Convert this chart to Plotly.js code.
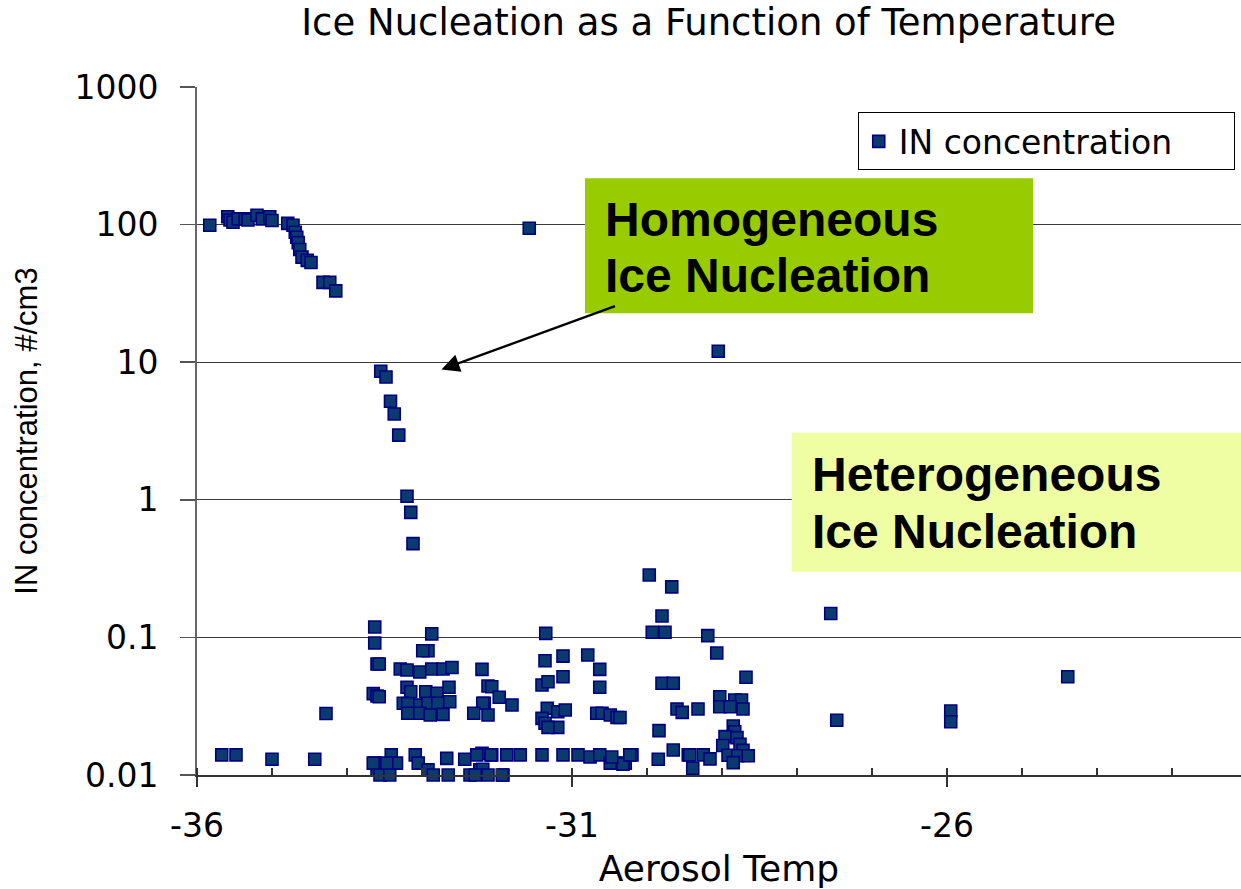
<!DOCTYPE html>
<html>
<head>
<meta charset="utf-8">
<script src="https://cdn.plot.ly/plotly-3.0.1.min.js"></script>
<style>
  html, body { margin: 0; padding: 0; background: #ffffff; }
  #chart { width: 1241px; height: 889px; }
</style>
</head>
<body>
<div id="chart"></div>
<script>
// Aerosol temperature (deg C) for each measurement
const aerosolTemp = [
  // homogeneous plateau and roll-off
  -35.83, -35.59, -35.56, -35.52, -35.45, -35.36, -35.32, -35.20, -35.13, -35.03, -35.00,
  -34.79, -34.72, -34.69, -34.67, -34.65, -34.63, -34.60, -34.53, -34.48, -34.32, -34.23, -34.15,
  // steep drop
  -33.55, -33.48, -33.42, -33.37, -33.31, -33.20, -33.15, -33.12,
  // isolated high points
  -31.57, -29.05,
  // far right
  -27.55, -27.47, -25.95, -25.95, -24.39,
  // left low
  -34.28, -35.67, -35.48, -35.00, -34.43,
  // column near -33.6
  -33.63, -33.63, -33.60, -33.57, -33.65, -33.60, -33.57,
  // cluster -33.3 .. -32.6
  -32.87, -32.92, -32.99,
  -33.29, -33.20, -33.03, -32.87, -32.72, -32.60,
  -33.20, -33.15, -32.95, -32.80, -32.64,
  -33.25, -33.19, -33.03, -32.92, -32.79, -32.63,
  -33.19, -33.03, -32.89, -32.72,
  // cluster -32.3 .. -31.8
  -32.20, -32.12, -32.07, -31.97, -31.80, -32.17, -32.19, -32.31, -32.12,
  // cluster -31.4 .. -31.1
  -31.35, -31.36, -31.12, -31.40, -31.32, -31.12, -31.33, -31.19, -31.09, -31.40, -31.36, -31.19, -31.32,
  // cluster -30.8 .. -30.4
  -30.79, -30.63, -30.63, -30.67, -30.60, -30.49, -30.40, -30.36,
  // cluster -30 .. -28.6
  -29.97, -29.67, -29.80, -29.93, -29.76, -29.19, -29.07, -29.80, -29.65, -28.68,
  -29.60, -29.53, -29.32, -29.03, -29.03, -28.83, -28.74, -28.72, -28.89, -29.84,
  // dense cluster near -28.8
  -28.85, -28.83, -28.96, -28.80, -28.99, -28.76, -28.72, -28.92, -28.79, -28.65, -28.85,
  // bottom row
  -33.63, -33.60, -33.56, -33.43, -33.41, -33.34, -33.47, -33.65, -33.09, -33.05, -32.92, -32.85,
  -32.67, -32.65, -32.43, -32.36, -32.20, -32.23, -32.07, -31.92, -31.87, -31.69, -31.40, -31.12,
  -30.92, -30.76, -30.63, -30.43, -30.29, -30.32, -30.20, -30.23, -29.85, -29.65, -29.45, -29.39,
  -29.43, -29.25, -29.16, -32.27, -32.08, -32.19, -32.29, -32.12, -31.93, -30.49, -30.47
];

// IN concentration (#/cm3) for each measurement
const inConcentration = [
  99, 114, 108, 104, 110, 110, 108, 117, 110, 114, 107,
  102, 99, 88, 81, 74, 66, 58, 55, 53, 38, 38, 33,
  8.6, 7.8, 5.2, 4.2, 2.95, 1.06, 0.81, 0.48,
  94, 12,
  0.149, 0.025, 0.0292, 0.0244, 0.0518,
  0.028, 0.014, 0.014, 0.013, 0.013,
  0.119, 0.091, 0.064, 0.064, 0.039, 0.0375, 0.037,
  0.106, 0.080, 0.080,
  0.059, 0.058, 0.056, 0.059, 0.059, 0.0605,
  0.0434, 0.0403, 0.0403, 0.0393, 0.0434,
  0.0332, 0.0330, 0.0323, 0.0332, 0.0332, 0.0341,
  0.0281, 0.0281, 0.0273, 0.0276,
  0.0586, 0.0443, 0.0438, 0.0367, 0.0323, 0.0332, 0.0332, 0.0281, 0.0273,
  0.107, 0.0676, 0.0731, 0.0451, 0.0476, 0.0518, 0.0305, 0.0288, 0.0297, 0.0258, 0.0238, 0.0222, 0.0222,
  0.0744, 0.0586, 0.0434, 0.0281, 0.0281, 0.0273, 0.0262, 0.0262,
  0.284, 0.233, 0.143, 0.109, 0.109, 0.103, 0.077, 0.0464, 0.0464, 0.0513,
  0.0302, 0.0285, 0.0302, 0.037, 0.0313, 0.0351, 0.0351, 0.0302, 0.0313, 0.021,
  0.0227, 0.0206, 0.019, 0.0187, 0.0164, 0.0167, 0.0151, 0.0139, 0.0138, 0.0138, 0.0123,
  0.0122, 0.0109, 0.0100, 0.0100, 0.0140, 0.0122, 0.0122, 0.0122, 0.0140, 0.0122, 0.0109, 0.0100,
  0.0132, 0.0100, 0.0130, 0.0100, 0.0144, 0.0109, 0.0140, 0.0100, 0.0140, 0.0140, 0.0140, 0.0140,
  0.0140, 0.0135, 0.0140, 0.0122, 0.0122, 0.0120, 0.0140, 0.0140, 0.0130, 0.0152, 0.0140, 0.0112,
  0.0140, 0.0140, 0.0131, 0.0140, 0.0140, 0.0110, 0.0100, 0.0100, 0.0100, 0.0122, 0.0135
];

const xTickVals = [-36, -31, -26];
const xTickText = ['-36', '-31', '-26'];
const yTickVals = [0.01, 0.1, 1, 10, 100, 1000];
const yTickText = ['0.01', '0.1', '1', '10', '100', '1000'];

const chartTitle = 'Ice Nucleation as a Function of Temperature';
const xTitle = 'Aerosol Temp';
const yTitle = 'IN concentration, #/cm3';
const seriesName = 'IN concentration';
const homLines = ['Homogeneous', 'Ice Nucleation'];
const hetLines = ['Heterogeneous', 'Ice Nucleation'];

const mainFont = 'DejaVu Sans, Verdana, sans-serif';
const arialFont = 'Liberation Sans, Arial, sans-serif';

const trace = {
  type: 'scatter',
  mode: 'markers',
  name: seriesName,
  x: aerosolTemp,
  y: inConcentration,
  cliponaxis: false,
  marker: {
    symbol: 'square',
    size: 12,
    color: '#0B3B6E',
    line: { color: '#000080', width: 1.6 }
  }
};

const layout = {
  width: 1241,
  height: 889,
  margin: { l: 197, r: 0, t: 87, b: 114, pad: 0 },
  paper_bgcolor: '#ffffff',
  plot_bgcolor: '#ffffff',
  showlegend: true,
  title: {
    text: chartTitle,
    font: { family: mainFont, size: 37, color: '#000000' },
    xref: 'paper', x: 0.49, xanchor: 'center',
    yref: 'container', y: 0.975, yanchor: 'middle'
  },
  xaxis: {
    range: [-36, -22.08],
    tickmode: 'array', tickvals: xTickVals, ticktext: xTickText,
    ticks: 'outside', ticklen: 10, tickwidth: 1.5, tickcolor: '#333333',
    minor: { tickmode: 'linear', ticks: 'inside', ticklen: 7, dtick: 1, tick0: -36, tickcolor: '#333333', tickwidth: 1.2, showgrid: false },
    showgrid: false, zeroline: false,
    showline: true, linecolor: '#333333', linewidth: 1.5,
    tickfont: { family: mainFont, size: 33, color: '#000000' },
    ticklabelstandoff: 11,
    title: { text: xTitle, font: { family: mainFont, size: 36, color: '#000000' }, standoff: 20 }
  },
  yaxis: {
    type: 'log',
    range: [-2, 3],
    tickmode: 'array', tickvals: yTickVals, ticktext: yTickText,
    ticks: 'outside', ticklen: 15, tickwidth: 1.5, tickcolor: '#555555',
    showgrid: true, gridcolor: '#3a3a3a', gridwidth: 1,
    zeroline: false,
    showline: true, linecolor: '#666666', linewidth: 2,
    tickfont: { family: mainFont, size: 33, color: '#000000' },
    ticklabelstandoff: 15,
    title: { text: yTitle, font: { family: arialFont, size: 31, color: '#000000' }, standoff: 28 }
  },
  legend: {
    orientation: 'h',
    entrywidth: 330, entrywidthmode: 'pixels',
    x: 0.994, xanchor: 'right', xref: 'paper',
    y: 0.963, yanchor: 'top', yref: 'paper',
    bgcolor: '#ffffff', bordercolor: '#000000', borderwidth: 1,
    font: { family: mainFont, size: 33, color: '#000000' }
  },
  shapes: [
    { type: 'rect', xref: 'paper', yref: 'paper', x0: 0.3716, x1: 0.8008, y0: 0.6712, y1: 0.8674,
      fillcolor: '#99CC00', line: { width: 0 }, layer: 'above' },
    { type: 'rect', xref: 'paper', yref: 'paper', x0: 0.5696, x1: 1.0, y0: 0.2954, y1: 0.4973,
      fillcolor: '#EFFEA2', line: { width: 0 }, layer: 'above' }
  ],
  annotations: [
    { xref: 'paper', yref: 'paper', x: 0.3885, y: 0.8078, xanchor: 'left', yanchor: 'middle',
      text: '<b>' + homLines[0] + '</b>', showarrow: false,
      font: { family: arialFont, size: 48, color: '#000000' } },
    { xref: 'paper', yref: 'paper', x: 0.3885, y: 0.7264, xanchor: 'left', yanchor: 'middle',
      text: '<b>' + homLines[1] + '</b>', showarrow: false,
      font: { family: arialFont, size: 48, color: '#000000' } },
    { xref: 'paper', yref: 'paper', x: 0.5875, y: 0.4373, xanchor: 'left', yanchor: 'middle',
      text: '<b>' + hetLines[0] + '</b>', showarrow: false,
      font: { family: arialFont, size: 48, color: '#000000' } },
    { xref: 'paper', yref: 'paper', x: 0.5875, y: 0.3545, xanchor: 'left', yanchor: 'middle',
      text: '<b>' + hetLines[1] + '</b>', showarrow: false,
      font: { family: arialFont, size: 48, color: '#000000' } },
    { xref: 'x', yref: 'y', x: -32.74, y: 0.947, text: '', showarrow: true,
      ax: 175, ay: -64, arrowhead: 2, arrowsize: 1.5, arrowwidth: 2.4, arrowcolor: '#000000', standoff: 0 }
  ]
};

Plotly.newPlot('chart', [trace], layout, { displayModeBar: false, staticPlot: true });
</script>
</body>
</html>
